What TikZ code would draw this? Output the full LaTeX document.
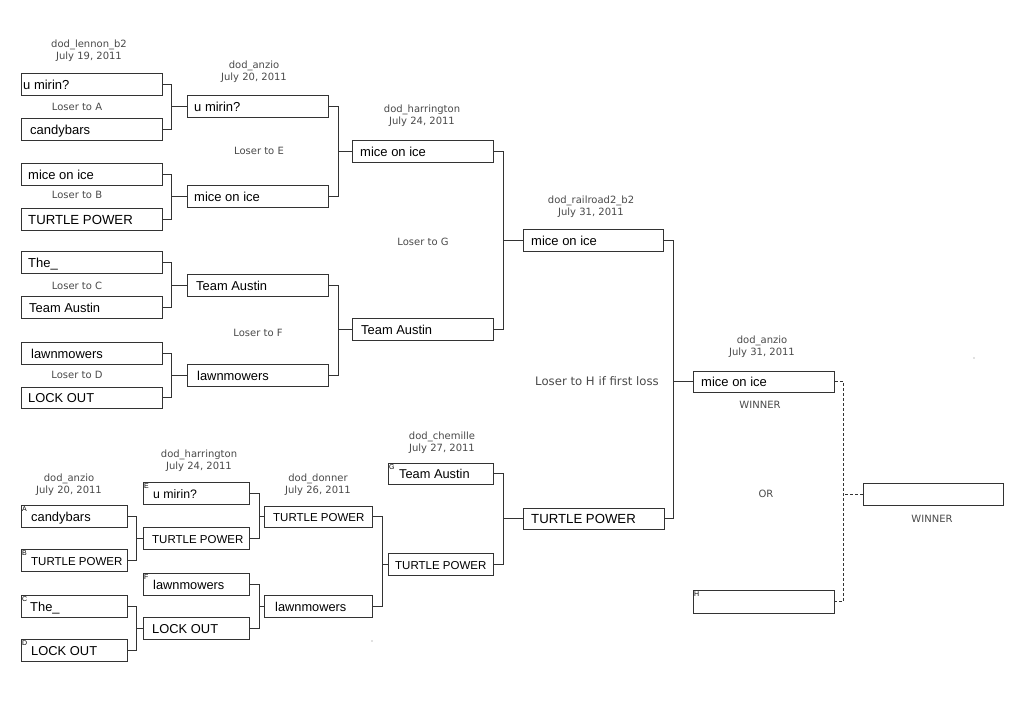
\documentclass[tikz,border=0pt]{standalone}
\usepackage{fontspec}
\setmainfont{Liberation Sans}
\newfontfamily\lblfont{DejaVu Sans}
\definecolor{linec}{HTML}{333333}
\definecolor{lblc}{HTML}{4A4A4A}
\tikzset{
  boxst/.style={draw=linec, line width=1pt, inner sep=0pt, fill=white},
  teamtxt/.style={inner sep=0pt, text=black},
  conn/.style={draw=linec, line width=1pt},
  lbl/.style={font=\lblfont\fontsize{10}{11.8}\selectfont, text=lblc, align=center, inner sep=0pt},
  letterst/.style={font=\fontsize{7}{7}\selectfont, inner sep=0pt, text=black, anchor=north west}
}
% name, x1, y1, x2, y2, textx, fontsize, text
\newcommand\tbox[8]{%
  \node[boxst, minimum width={(#4-#2)*1pt}, minimum height={(#5-#3)*1pt}] (#1) at ({(#2+#4)/2},{(#3+#5)/2}) {};
  \node[teamtxt, anchor=base west, font=\fontsize{#7}{#7}\selectfont] (#1t) at (#6,{#5-5.6}) {#8};
}
% a, b, next, junction x
\newcommand\bracket[4]{%
  \coordinate (#1j) at (#4,0);
  \draw[conn] (#1.east) -- (#1.east -| #1j) -- (#2.east -| #1j) -- (#2.east);
  \draw[conn] (#3.west) -- (#3.west -| #1j);
}
\begin{document}
\begin{tikzpicture}[x=1pt,y=-1pt]
\useasboundingbox[fill=white] (0,0) rectangle (1024,720);

% upper round 1
\tbox{a1}{21}{73}{162}{95}{23}{13}{u mirin?}
\tbox{a2}{21}{118}{162}{140}{30}{13}{candybars}
\tbox{a3}{21}{163}{162}{185}{28}{13}{mice on ice}
\tbox{a4}{21}{208}{162}{230}{28}{13.2}{TURTLE POWER}
\tbox{a5}{21}{251}{162}{273}{28}{13}{The\_}
\tbox{a6}{21}{296}{162}{318}{29}{12.9}{Team Austin}
\tbox{a7}{21}{342}{162}{364}{31}{12.9}{lawnmowers}
\tbox{a8}{21}{387}{162}{408}{28}{12.9}{LOCK OUT}
% upper round 2
\tbox{b1}{187}{95}{328}{117}{194}{13}{u mirin?}
\tbox{b2}{187}{185}{328}{207}{194}{13}{mice on ice}
\tbox{b3}{187}{274}{328}{296}{196}{12.9}{Team Austin}
\tbox{b4}{187}{364}{328}{386}{197}{12.9}{lawnmowers}
% upper round 3
\tbox{c1}{352}{140}{493}{162}{360}{13}{mice on ice}
\tbox{c2}{352}{318}{493}{340}{361}{12.9}{Team Austin}
% upper final
\tbox{d1}{523}{229}{663}{251}{531}{13}{mice on ice}
% grand final
\tbox{f1}{693}{371}{834}{392}{701}{13}{mice on ice}
\tbox{hb}{693}{590}{834}{613}{701}{13}{}
\tbox{win}{863}{483}{1003}{505}{870}{13}{}
\tbox{tpf}{523}{508}{664}{529}{531}{13.2}{TURTLE POWER}
% lower round 1
\tbox{la}{21}{505}{127}{527}{31}{12.9}{candybars}
\tbox{lb}{21}{549}{127}{571}{31}{11.5}{TURTLE POWER}
\tbox{lc}{21}{595}{127}{617}{30}{12.9}{The\_}
\tbox{ld}{21}{639}{127}{661}{31}{12.9}{LOCK OUT}
% lower round 2
\tbox{le}{143}{482}{249}{504}{153}{12.3}{u mirin?}
\tbox{lf}{143}{527}{249}{549}{152}{11.5}{TURTLE POWER}
\tbox{lg}{143}{573}{249}{595}{153}{12.8}{lawnmowers}
\tbox{lh}{143}{617}{249}{639}{152}{12.9}{LOCK OUT}
% lower round 3
\tbox{li}{264}{506}{372}{527}{273}{11.5}{TURTLE POWER}
\tbox{lj}{264}{595}{372}{617}{275}{12.8}{lawnmowers}
% lower round 4
\tbox{lk}{388}{463}{493}{484}{399}{12.8}{Team Austin}
\tbox{ll}{388}{553}{493}{575}{395}{11.5}{TURTLE POWER}

% letters
\node[letterst] (mA) at ([xshift=1.5pt,yshift=-1.5pt]la.north west) {A};
\node[letterst] (mB) at ([xshift=1.5pt,yshift=-1.5pt]lb.north west) {B};
\node[letterst] (mC) at ([xshift=1.5pt,yshift=-1.5pt]lc.north west) {C};
\node[letterst] (mD) at ([xshift=1.5pt,yshift=-1.5pt]ld.north west) {D};
\node[letterst] (mE) at ([xshift=1.5pt,yshift=-1.5pt]le.north west) {E};
\node[letterst] (mF) at ([xshift=1.5pt,yshift=-1.5pt]lg.north west) {F};
\node[letterst] (mG) at ([xshift=1.5pt,yshift=-1.5pt]lk.north west) {G};
\node[letterst] (mH) at ([xshift=1.5pt,yshift=-1.5pt]hb.north west) {H};

% connectors
\bracket{a1}{a2}{b1}{171}
\bracket{a3}{a4}{b2}{171}
\bracket{a5}{a6}{b3}{171}
\bracket{a7}{a8}{b4}{171}
\bracket{b1}{b2}{c1}{338}
\bracket{b3}{b4}{c2}{338}
\bracket{c1}{c2}{d1}{503}
\bracket{d1}{tpf}{f1}{673}
\bracket{la}{lb}{lf}{136}
\bracket{lc}{ld}{lh}{136}
\bracket{le}{lf}{li}{259}
\bracket{lg}{lh}{lj}{259}
\bracket{li}{lj}{ll}{382}
\bracket{lk}{ll}{tpf}{503}
\coordinate (fj) at (843,0);
\draw[conn, dash pattern=on 3pt off 2pt] (f1.east) -- (f1.east -| fj) -- (hb.east -| fj) -- (hb.east);
\draw[conn, dash pattern=on 3pt off 2pt] (win.west) -- (win.west -| fj);

% labels
\node[lbl] (l1) at (89,50.5) {dod\_lennon\_b2\\July 19, 2011};
\node[lbl] (l2) at (254,72) {dod\_anzio\\July 20, 2011};
\node[lbl] (l3) at (422,116) {dod\_harrington\\July 24, 2011};
\node[lbl] (l4) at (591,206.5) {dod\_railroad2\_b2\\July 31, 2011};
\node[lbl] (l5) at (762,347) {dod\_anzio\\July 31, 2011};
\node[lbl] (l6) at (69,484.5) {dod\_anzio\\July 20, 2011};
\node[lbl] (l7) at (199,461) {dod\_harrington\\July 24, 2011};
\node[lbl] (l8) at (318,485) {dod\_donner\\July 26, 2011};
\node[lbl] (l9) at (442,442.5) {dod\_chemille\\July 27, 2011};
\node[lbl] (xa) at (77,107) {Loser to A};
\node[lbl] (xb) at (77,195) {Loser to B};
\node[lbl] (xc) at (77,286) {Loser to C};
\node[lbl] (xd) at (77,375) {Loser to D};
\node[lbl] (xe) at (259,151) {Loser to E};
\node[lbl] (xf) at (258,333) {Loser to F};
\node[lbl] (xg) at (423,242) {Loser to G};
\node[lbl, font=\lblfont\fontsize{11.7}{13}\selectfont] (xh) at (597,381) {Loser to H if first loss};
\node[lbl] (w1) at (760,405) {WINNER};
\node[lbl] (or) at (766,494) {OR};
\node[lbl] (w2) at (932,519) {WINNER};

% stray dots
\fill[gray] (974,358) circle (0.6);
\fill[gray] (372,641) circle (0.6);
\end{tikzpicture}
\end{document}
